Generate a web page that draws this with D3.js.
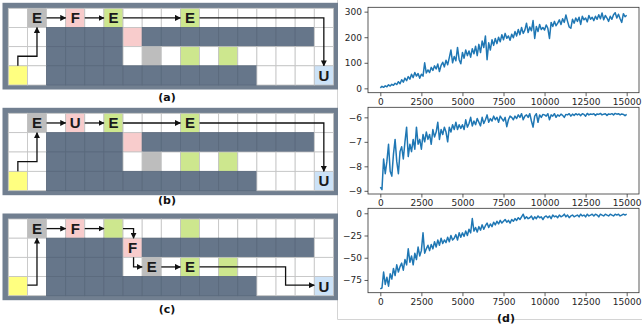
<!DOCTYPE html>
<html>
<head>
<meta charset="utf-8">
<script src="https://cdn.jsdelivr.net/npm/d3@7"></script>
<style>
  body { margin: 0; background: #fff; }
  svg { display: block; }
</style>
</head>
<body>
<div id="fig"></div>
<script>
// ---- data ----
const episodeStep = 100;
const xTicks = [0, 2500, 5000, 7500, 10000, 12500, 15000];

// (d) top: reward
const rewardValues = [
  2, 8, 4, 10, 6, 14, 9, 16, 12, 20,
  15, 26, 18, 34, 24, 40, 30, 46, 36, 55,
  42, 62, 48, 58, 40, 55, 48, 100, 60, 72,
  62, 82, 70, 88, 76, 95, 66, 90, 102, 84,
  110, 92, 120, 150, 100, 125, 108, 160, 112, 96,
  140, 118, 150, 128, 146, 122, 155, 135, 165, 128,
  172, 140, 185, 160, 205, 112, 178, 150, 190, 168,
  195, 175, 200, 182, 210, 190, 215, 196, 205, 188,
  212, 198, 222, 205, 230, 210, 238, 215, 228, 255,
  218, 240, 225, 265, 195, 242, 222, 250, 230, 238,
  228, 248, 235, 195, 258, 242, 262, 245, 255, 268,
  250, 272, 258, 287, 262, 240, 235, 270, 255, 275,
  262, 278, 250, 282, 268, 275, 260, 285, 270, 278,
  265, 282, 270, 288, 272, 295, 268, 285, 275, 262,
  282, 270, 288, 296, 275, 290, 272, 258, 292, 280,
  286
];
const rewardTicks = [0, 100, 200, 300];

// (d) middle
const stepValues = [
  -8.85, -8.95, -7.7, -8.3, -7.8, -7.1, -8.2, -8.4, -7.5, -6.9,
  -7.8, -8.3, -7.4, -7.2, -7.7, -7.0, -6.4, -7.6, -7.1, -7.4,
  -6.9, -7.3, -6.4, -7.1, -6.9, -7.3, -6.7, -7.0, -6.6, -6.9,
  -6.7, -7.1, -6.5, -6.8, -6.6, -6.2, -6.9, -6.5, -6.7, -6.4,
  -6.6, -7.0, -6.4, -6.6, -6.3, -6.5, -6.2, -6.5, -6.3, -6.45,
  -6.3, -6.5, -6.1, -6.4, -6.25, -6.0, -6.35, -6.15, -6.3, -6.05,
  -6.2, -6.35, -6.0, -6.25, -6.1, -5.9, -6.2, -6.05, -6.15, -5.95,
  -6.1, -6.0, -6.2, -5.95, -6.05, -6.15, -6.0, -6.38, -6.1, -5.95,
  -6.0, -6.1, -5.95, -6.05, -5.9, -6.0, -5.85, -6.1, -5.95, -5.9,
  -6.0, -5.85, -6.15, -6.4, -5.95, -5.85, -6.2, -5.9, -6.0, -5.88,
  -5.9, -5.95, -5.85, -6.1, -5.9, -5.95, -5.85, -6.0, -5.9, -5.95,
  -5.87, -5.92, -6.0, -5.88, -5.9, -5.85, -5.95, -5.87, -5.92, -5.85,
  -5.9, -5.86, -5.93, -5.85, -5.88, -5.95, -5.84, -5.9, -5.86, -5.88,
  -5.85, -5.92, -5.86, -5.88, -5.84, -5.9, -5.87, -5.85, -5.92, -5.86,
  -5.88, -5.85, -5.9, -5.84, -5.87, -5.85, -5.9, -5.86, -5.88, -5.93,
  -5.88
];
const stepTicks = [-9, -8, -7, -6];

// (d) bottom
const returnValues = [
  -85, -84, -66, -80, -72, -82, -68, -74, -62, -70,
  -58, -66, -60, -56, -64, -52, -58, -40, -55, -48,
  -58, -45, -52, -38, -48, -42, -22, -45, -40, -36,
  -42, -35, -40, -32, -38, -30, -36, -28, -34, -30,
  -33, -27, -32, -25, -30, -28, -24, -30, -22, -27,
  -22, -26, -20, -25, -18, -22, -6, -20, -16, -21,
  -15, -19, -13, -18, -14, -11, -16, -12, -15, -10,
  -13, -9, -12, -8, -11, -9, -7, -10, -8, -11,
  -7, -9, -6, -8, -5, -7, -4, -1, -6, -4,
  -6, -5, -3, -7, -4, -6, -3, -5, -4, -7,
  -4, -3, -5, -3, -6, -2, -4, -3, -5, -2,
  -4, -3, -1, -4, -2, -5, -3, -2, -4, -3,
  -2, -4, -1, -3, -2, -4, -1, -3, -2, -1,
  -3, -1, -2, -4, -1, -2, -3, -1, -2, -3,
  -1, -2, -3, -1, -2, -1, -3, -2, -1, -2,
  -1
];
const returnTicks = [-75, -50, -25, 0];

// grid worlds: w white, d wall, g gray, p pink, l green, y yellow, b blue
const mapA = [
  "wgwpwlwwwlwwwwwww",
  "wwddddpdddddddddw",
  "wwddddwgwlwlwwwww",
  "ywdddddddddddwwwb"
];
const mapB = mapA;
const mapC = mapA;

// [row, col, letter]
const lettersA = [[0, 1, "E"], [0, 3, "F"], [0, 5, "E"], [0, 9, "E"], [3, 16, "U"]];
const lettersB = [[0, 1, "E"], [0, 3, "U"], [0, 5, "E"], [0, 9, "E"], [3, 16, "U"]];
const lettersC = [[0, 1, "E"], [0, 3, "F"], [1, 6, "F"], [2, 7, "E"], [2, 9, "E"], [3, 16, "U"]];

// arrow routes in [col, row] grid units
const routesAB = [
  [[0.5, 3], [0.5, 2.5], [1.5, 2.5], [1.5, 1]],
  [[2, 0.5], [3, 0.5]],
  [[4, 0.5], [5, 0.5]],
  [[6, 0.5], [9, 0.5]],
  [[10, 0.5], [16.5, 0.5], [16.5, 3]]
];
const routesC = [
  [[1, 3.45], [1.5, 3.45], [1.5, 1]],
  [[2, 0.5], [3, 0.5]],
  [[4, 0.5], [5, 0.5]],
  [[6, 0.5], [6.55, 0.5], [6.55, 1]],
  [[6.55, 2], [6.55, 2.5], [7, 2.5]],
  [[8, 2.5], [9, 2.5]],
  [[10, 2.5], [14.5, 2.5], [14.5, 3.45], [16, 3.45]]
];

const cellColor = {
  w: "#ffffff", d: "#66768a", g: "#bdbdbd", p: "#f8cccc",
  l: "#cde78e", y: "#ffff80", b: "#cce2f7"
};

const W = 642, H = 327;
const svg = d3.select("#fig").append("svg")
  .attr("width", W).attr("height", H)
  .style("font-family", "'DejaVu Sans', sans-serif");

svg.append("defs").append("marker")
  .attr("id", "arrow")
  .attr("viewBox", "0 0 10 10")
  .attr("refX", 9).attr("refY", 5)
  .attr("markerUnits", "userSpaceOnUse")
  .attr("markerWidth", 6).attr("markerHeight", 6)
  .attr("orient", "auto")
  .append("path")
  .attr("d", "M0,0 L10,5 L0,10 z")
  .attr("fill", "#111");

// right panel frame
svg.append("path")
  .attr("d", "M337.5,0 V319.5 H642")
  .attr("fill", "none")
  .attr("stroke", "#d4d4d4");

// ---- grid worlds ----
const panels = [
  { map: mapA, letters: lettersA, routes: routesAB, label: "(a)", top: 8.3, bottom: 85, labelY: 97 },
  { map: mapB, letters: lettersB, routes: routesAB, label: "(b)", top: 113.3, bottom: 190.7, labelY: 200.5 },
  { map: mapC, letters: lettersC, routes: routesC, label: "(c)", top: 219, bottom: 295.7, labelY: 309 }
];

panels.forEach(p => {
  const col = d3.scaleLinear().domain([0, 17]).range([8.3, 333.4]);
  const row = d3.scaleLinear().domain([0, 4]).range([p.top, p.bottom]);
  const g = svg.append("g");

  g.append("rect")
    .attr("x", 2.5).attr("y", p.top - 5.5)
    .attr("width", 335.5).attr("height", p.bottom - p.top + 10)
    .attr("fill", "#717f90");

  const cells = [];
  p.map.forEach((line, r) => line.split("").forEach((ch, c) => cells.push({ r, c, ch })));

  g.selectAll("rect.cell")
    .data(cells)
    .enter().append("rect")
    .attr("class", "cell")
    .attr("x", d => col(d.c))
    .attr("y", d => row(d.r))
    .attr("width", col(1) - col(0))
    .attr("height", row(1) - row(0))
    .attr("fill", d => cellColor[d.ch])
    .attr("stroke", d => d.ch === "d" ? "#5b6a7d" : "#c4c4c4")
    .attr("stroke-width", 0.8);

  g.selectAll("text.letter")
    .data(p.letters)
    .enter().append("text")
    .attr("class", "letter")
    .attr("x", d => col(d[1] + 0.5))
    .attr("y", d => row(d[0] + 0.5))
    .attr("dy", "0.36em")
    .attr("text-anchor", "middle")
    .attr("font-family", "'Liberation Sans', Arial, sans-serif")
    .attr("font-weight", "bold")
    .attr("font-size", 15)
    .attr("fill", "#1a1a1a")
    .text(d => d[2]);

  const line = d3.line().x(d => col(d[0])).y(d => row(d[1]));
  g.selectAll("path.route")
    .data(p.routes)
    .enter().append("path")
    .attr("class", "route")
    .attr("d", line)
    .attr("fill", "none")
    .attr("stroke", "#111")
    .attr("stroke-width", 1.3)
    .attr("marker-end", "url(#arrow)");

  svg.append("text")
    .attr("x", 167).attr("y", p.labelY)
    .attr("dy", "0.35em")
    .attr("text-anchor", "middle")
    .attr("font-weight", "bold")
    .attr("font-size", 11)
    .attr("fill", "#111")
    .text(p.label);
});

// ---- learning curves ----
const charts = [
  { values: rewardValues, ticks: rewardTicks, domain: [-17, 317], top: 7.3, bottom: 92.7 },
  { values: stepValues, ticks: stepTicks, domain: [-9.13, -5.59], top: 107.3, bottom: 194 },
  { values: returnValues, ticks: returnTicks, domain: [-89.3, 5.6], top: 208.3, bottom: 292.7 }
];

const x = d3.scaleLinear().domain([-750, 15750]).range([368, 639]);
const fmt = d => (d < 0 ? "\u2212" + Math.abs(d) : String(d));

charts.forEach(c => {
  const y = d3.scaleLinear().domain(c.domain).range([c.bottom, c.top]);
  const g = svg.append("g");

  const line = d3.line()
    .x((d, i) => x(i * episodeStep))
    .y(d => y(d));

  g.append("path")
    .datum(c.values)
    .attr("d", line)
    .attr("fill", "none")
    .attr("stroke", "#1f77b4")
    .attr("stroke-width", 1.5)
    .attr("stroke-linejoin", "round");

  g.append("rect")
    .attr("x", 368).attr("y", c.top)
    .attr("width", 639 - 368).attr("height", c.bottom - c.top)
    .attr("fill", "none")
    .attr("stroke", "#333")
    .attr("stroke-width", 0.8);

  const xa = g.append("g")
    .attr("transform", `translate(0,${c.bottom})`)
    .call(d3.axisBottom(x).tickValues(xTicks).tickSize(3.5).tickPadding(2.5).tickFormat(fmt));
  const ya = g.append("g")
    .attr("transform", "translate(368,0)")
    .call(d3.axisLeft(y).tickValues(c.ticks).tickSize(3.5).tickPadding(2.5).tickFormat(fmt));

  [xa, ya].forEach(a => {
    a.select(".domain").remove();
    a.selectAll("line").attr("stroke", "#333").attr("stroke-width", 0.8);
    a.selectAll("text")
      .attr("fill", "#262626")
      .style("font-family", "'DejaVu Sans', sans-serif")
      .style("font-size", "9px");
  });
});

svg.append("text")
  .attr("x", 506).attr("y", 318)
  .attr("dy", "0.35em")
  .attr("text-anchor", "middle")
  .attr("font-weight", "bold")
  .attr("font-size", 11)
  .attr("fill", "#111")
  .text("(d)");
</script>
</body>
</html>
